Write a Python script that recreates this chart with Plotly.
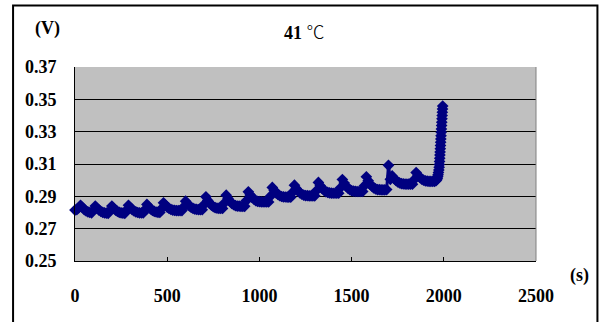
import plotly.graph_objects as go

# ---- data ----
time_s = [
    0, 10, 20, 30, 40, 50, 60, 70, 80, 90, 100, 110, 120, 130, 140, 150, 160, 170, 180, 190,
    200, 210, 220, 230, 240, 250, 260, 270, 280, 290, 300, 310, 320, 330, 340, 350, 360, 370, 380, 390,
    400, 410, 420, 430, 440, 450, 460, 470, 480, 490, 500, 510, 520, 530, 540, 550, 560, 570, 580, 590,
    600, 610, 620, 630, 640, 650, 660, 670, 680, 690, 700, 710, 720, 730, 740, 750, 760, 770, 780, 790,
    800, 810, 820, 830, 840, 850, 860, 870, 880, 890, 900, 910, 920, 930, 940, 950, 960, 970, 980, 990,
    1000, 1010, 1020, 1030, 1040, 1050, 1060, 1070, 1080, 1090, 1100, 1110, 1120, 1130, 1140, 1150, 1160, 1170, 1180, 1190,
    1200, 1210, 1220, 1230, 1240, 1250, 1260, 1270, 1280, 1290, 1300, 1310, 1320, 1330, 1340, 1350, 1360, 1370, 1380, 1390,
    1400, 1410, 1420, 1430, 1440, 1450, 1460, 1470, 1480, 1490, 1500, 1510, 1520, 1530, 1540, 1550, 1560, 1570, 1580, 1590,
    1600, 1610, 1620, 1630, 1640, 1650, 1660, 1670, 1680, 1690, 1700, 1710, 1720, 1730, 1740, 1750, 1760, 1770, 1780, 1790,
    1800, 1810, 1820, 1830, 1840, 1850, 1860, 1870, 1880, 1890, 1900, 1910, 1920, 1930, 1940, 1950,
    1958, 1962, 1965, 1967, 1969, 1971, 1973, 1975, 1976, 1977, 1978, 1979, 1980, 1981, 1982, 1983,
    1984, 1985, 1986, 1987, 1988, 1989, 1990, 1991, 1992, 1993, 1994,
]

voltage_v = [
    0.2815, 0.2818, 0.2828, 0.2845, 0.2832, 0.2818, 0.2810, 0.2804, 0.2800, 0.2798, 0.2814, 0.2840, 0.2826, 0.2815, 0.2807, 0.2801, 0.2798, 0.2796, 0.2795, 0.2813,
    0.2840, 0.2826, 0.2815, 0.2807, 0.2801, 0.2798, 0.2796, 0.2795, 0.2815, 0.2845, 0.2831, 0.2818, 0.2810, 0.2804, 0.2800, 0.2798, 0.2797, 0.2797, 0.2818, 0.2850,
    0.2835, 0.2822, 0.2813, 0.2807, 0.2803, 0.2801, 0.2800, 0.2824, 0.2860, 0.2846, 0.2833, 0.2825, 0.2819, 0.2815, 0.2813, 0.2812, 0.2812, 0.2812, 0.2812, 0.2835,
    0.2870, 0.2854, 0.2841, 0.2832, 0.2825, 0.2821, 0.2819, 0.2818, 0.2817, 0.2817, 0.2849, 0.2897, 0.2875, 0.2857, 0.2845, 0.2836, 0.2830, 0.2827, 0.2826, 0.2825,
    0.2825, 0.2858, 0.2907, 0.2886, 0.2869, 0.2857, 0.2848, 0.2843, 0.2840, 0.2839, 0.2838, 0.2838, 0.2838, 0.2874, 0.2928, 0.2909, 0.2893, 0.2883, 0.2874, 0.2869,
    0.2867, 0.2866, 0.2865, 0.2865, 0.2865, 0.2865, 0.2901, 0.2955, 0.2937, 0.2922, 0.2912, 0.2904, 0.2899, 0.2897, 0.2896, 0.2895, 0.2895, 0.2895, 0.2925, 0.2969,
    0.2949, 0.2933, 0.2921, 0.2913, 0.2908, 0.2905, 0.2904, 0.2903, 0.2903, 0.2903, 0.2903, 0.2936, 0.2986, 0.2966, 0.2949, 0.2938, 0.2929, 0.2924, 0.2921, 0.2920,
    0.2919, 0.2919, 0.2919, 0.2919, 0.2953, 0.3004, 0.2982, 0.2963, 0.2951, 0.2941, 0.2935, 0.2932, 0.2931, 0.2930, 0.2930, 0.2930, 0.2930, 0.2966, 0.3021, 0.2997,
    0.2976, 0.2963, 0.2952, 0.2946, 0.2942, 0.2941, 0.2940, 0.2940, 0.2940, 0.2942, 0.3092, 0.3005, 0.3026, 0.3011, 0.2998, 0.2989, 0.2983, 0.2979, 0.2977, 0.2976,
    0.2975, 0.2975, 0.2975, 0.2975, 0.3004, 0.3047, 0.3031, 0.3017, 0.3007, 0.3000, 0.2996, 0.2994, 0.2993, 0.2992, 0.2992, 0.2993,
    0.2997, 0.3003, 0.3012, 0.3022, 0.3034, 0.3048, 0.3063, 0.3080, 0.3097, 0.3116, 0.3135, 0.3155, 0.3175, 0.3195, 0.3215, 0.3235,
    0.3255, 0.3275, 0.3296, 0.3317, 0.3338, 0.3359, 0.3380, 0.3400, 0.3420, 0.3440, 0.3458,
]

x_ticks = [0, 500, 1000, 1500, 2000, 2500]
y_ticks = [0.25, 0.27, 0.29, 0.31, 0.33, 0.35, 0.37]
title_text = "41 "
title_unit = "℃"
y_unit = "(V)"
x_unit = "(s)"

# ---- figure (pixel positions are page pixels; body margin is removed) ----
W, H = 599, 322
PL, PR, PT, PB = 74.5, 536, 67, 261          # plot area in page pixels
L, T = PL, PT
R, B = W - PR, H - PB
pw, ph = W - L - R, H - T - B


def px(x):
    return (x - L) / pw


def py(y):
    return (H - B - y) / ph


SERIF = "Liberation Serif, Times New Roman, serif"
NAVY = "#000080"

fig = go.Figure()
fig.add_trace(go.Scatter(
    x=time_s, y=voltage_v, mode="lines+markers",
    line=dict(color=NAVY, width=3),
    marker=dict(symbol="diamond", size=9, color=NAVY, line=dict(width=0)),
    showlegend=False, cliponaxis=False,
))

fig.update_layout(
    width=W, height=H,
    margin=dict(l=L, r=R, t=T, b=B, pad=0, autoexpand=False),
    paper_bgcolor="white", plot_bgcolor="#C0C0C0",
    font=dict(family=SERIF, size=18, color="black"),
    xaxis=dict(
        range=[0, 2500], tickvals=x_ticks, ticktext=[str(v) for v in x_ticks],
        showgrid=False, zeroline=False, showline=True, linecolor="black", linewidth=1,
        ticks="inside", ticklen=4, tickcolor="black", ticklabelstandoff=18,
        tickfont=dict(family=SERIF, size=18, weight="bold"),
    ),
    yaxis=dict(
        range=[0.25, 0.37], tickvals=y_ticks, ticktext=["%.2f" % v for v in y_ticks],
        showgrid=True, gridcolor="black", gridwidth=1, zeroline=False,
        showline=True, linecolor="black", linewidth=1,
        ticks="inside", ticklen=3, tickcolor="black", ticklabelstandoff=14,
        tickfont=dict(family=SERIF, size=18, weight="bold"),
    ),
    shapes=[
        dict(type="line", xref="paper", yref="paper", x0=1, x1=1, y0=0, y1=1,
             line=dict(color="#808080", width=1)),
        dict(type="rect", xref="paper", yref="paper",
             x0=px(12.5), x1=px(597.5), y0=py(360), y1=py(5.5),
             line=dict(color="black", width=2), fillcolor="rgba(0,0,0,0)", layer="above"),
    ],
    annotations=[
        dict(xref="paper", yref="paper", x=px(304), y=py(31), showarrow=False,
             text="<b>" + title_text + "</b><span style=\"font-family:'Noto Sans CJK JP';font-weight:300\">" + title_unit + "</span>",
             font=dict(family=SERIF, size=18), xanchor="center", yanchor="middle"),
        dict(xref="paper", yref="paper", x=px(47), y=py(28), showarrow=False,
             text="<b>" + y_unit + "</b>", font=dict(family=SERIF, size=18),
             xanchor="center", yanchor="middle"),
        dict(xref="paper", yref="paper", x=px(580), y=py(275), showarrow=False,
             text="<b>" + x_unit + "</b>", font=dict(family=SERIF, size=18),
             xanchor="center", yanchor="middle"),
    ],
)

fig.write_html(
    "out.html",
    config={"displayModeBar": False},
    post_script=(
        "document.body.style.margin='0';"
        "document.body.style.overflow='hidden';"
        "document.documentElement.style.overflow='hidden';"
    ),
)
